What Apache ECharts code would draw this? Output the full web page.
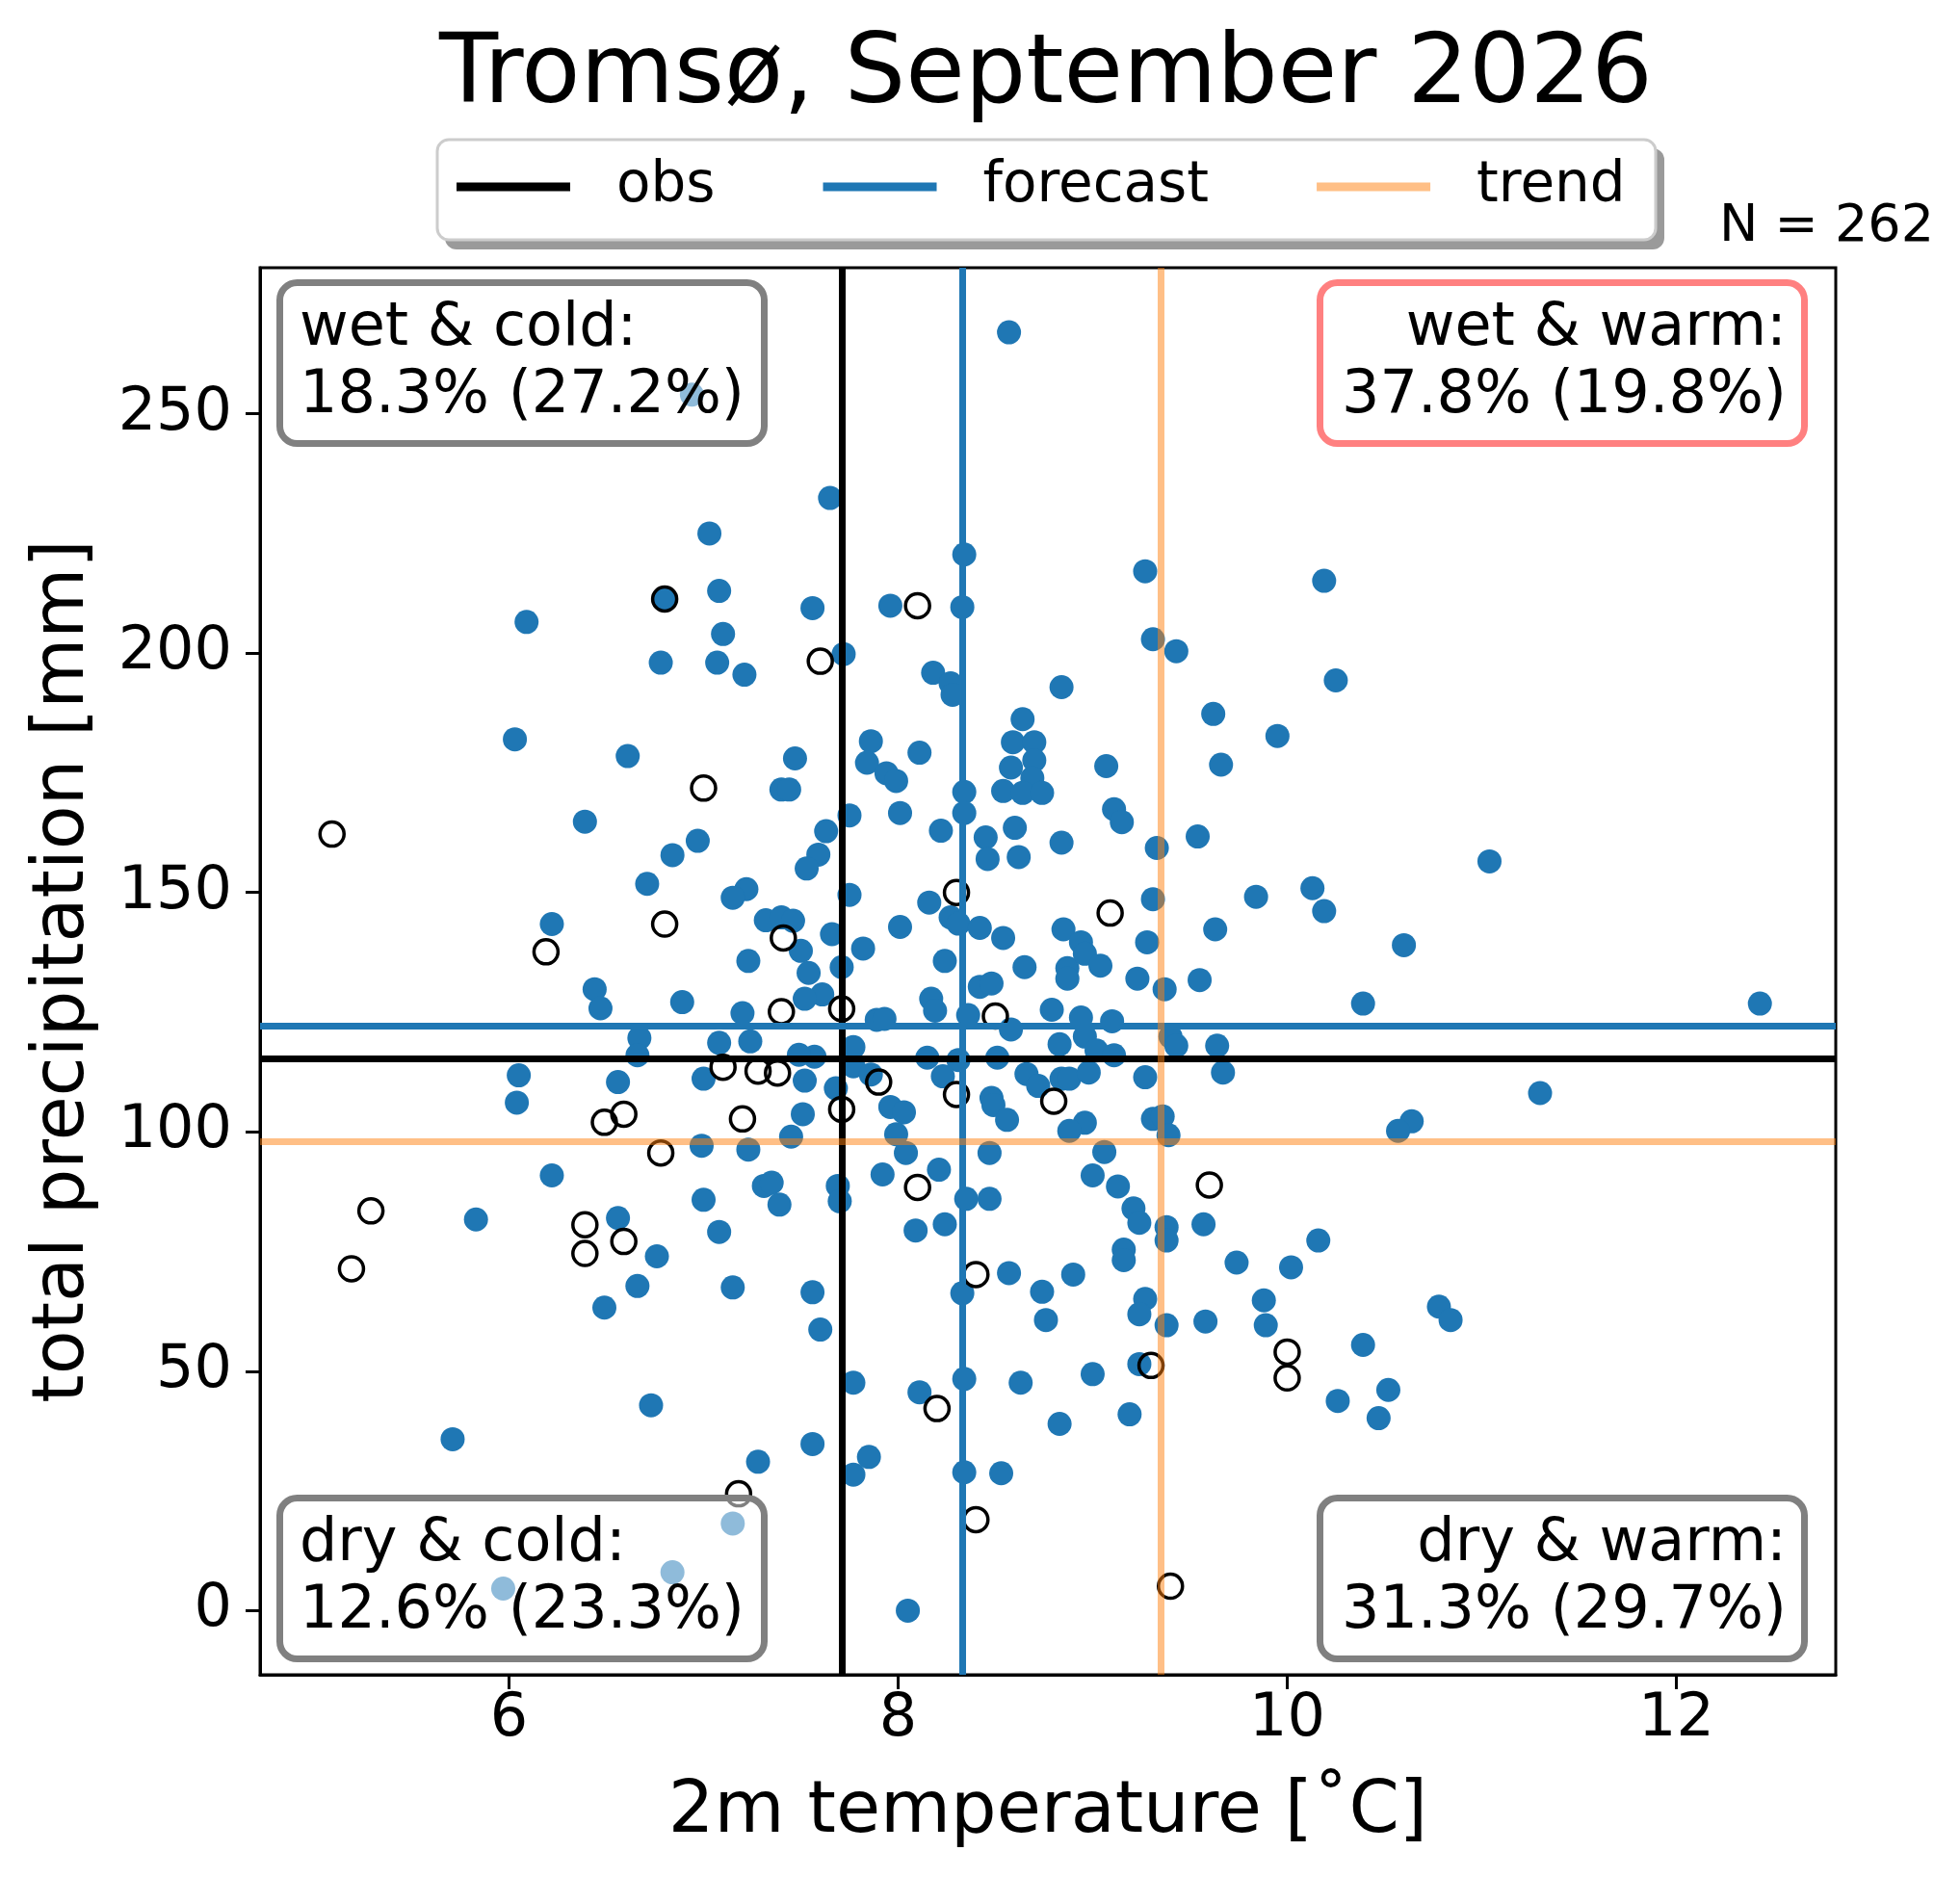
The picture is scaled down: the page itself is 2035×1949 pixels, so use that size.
<!DOCTYPE html>
<html><head><meta charset="utf-8">
<script src="https://cdn.jsdelivr.net/npm/echarts@6/dist/echarts.min.js"></script>
<style>html,body{margin:0;padding:0;background:#fff}#c{width:2035px;height:1949px}</style>
</head><body><div id="c"></div>
<script>
const chartTitle = 'Tromsø, September 2026';
const xTicks = [6, 8, 10, 12];
const yTicks = [0, 50, 100, 150, 200, 250];
const nLabel = 'N = 262';

// reference lines: obs, forecast, trend  (temperature, precipitation)
const refNames = ['obs', 'forecast', 'trend'];
const refTemp = [7.71, 8.33, 9.345];
const refPrecip = [115.2, 122.2, 98.0];

// quadrant summaries
const quadNames = ['wet & cold:', 'wet & warm:', 'dry & cold:', 'dry & warm:'];
const quadShare = ['18.3%', '37.8%', '12.6%', '31.3%'];
const quadClim = ['(27.2%)', '(19.8%)', '(23.3%)', '(29.7%)'];

// forecast ensemble members [temperature, precipitation] (filled blue)
const memberPoints = [
 [6.94,254],[7.03,225],[6.80,211.5],[7.08,213],[6.09,206.5],[7.10,204],[6.78,198],[7.07,198],[7.21,195.5],[6.03,182],
 [6.61,178.5],[7.47,178],[7.40,171.5],[7.44,171.5],[6.39,164.8],[6.97,160.8],[6.84,157.8],[6.71,151.8],[7.22,150.7],[7.15,148.9],
 [6.22,143.4],[7.32,144.2],[7.40,144.8],[7.46,144.1],
 [8.57,267],[7.65,232.4],[8.34,220.6],[9.27,217.1],[10.19,215.1],[7.56,209.4],[7.96,209.9],[8.33,209.6],[7.72,199.8],[9.31,202.9],
 [9.43,200.4],[8.18,195.9],[8.27,193.7],[8.28,191.3],[8.84,192.9],[10.25,194.3],[8.64,186.2],[9.62,187.3],[9.95,182.7],[8.59,181.4],
 [8.70,181.4],[7.86,181.6],[8.70,177.6],[7.84,177.1],[8.11,179.2],[7.94,174.9],[7.99,173.3],[8.58,176.1],[8.69,173.9],[9.07,176.4],
 [9.66,176.7],[8.54,171.2],[8.64,170.8],[8.74,170.8],[8.34,171.0],[8.34,166.6],[7.75,166.1],[8.01,166.6],[9.11,167.4],[9.15,164.7],
 [7.63,162.8],[8.22,162.9],[8.45,161.5],[8.60,163.5],[7.59,157.9],[7.53,155.0],[8.46,157.0],[8.62,157.4],[8.84,160.4],[9.33,159.3],
 [9.54,161.7],[7.75,149.5],[8.16,147.9],[9.31,148.6],[9.84,149.1],[10.13,150.9],[10.19,146.1],[8.27,144.8],[8.31,143.5],[8.01,142.8],
 [8.42,142.6],[8.54,140.5],[8.85,142.3],[8.94,139.6],[9.28,139.6],[9.63,142.3],[7.66,141.3],
 [11.04,156.5],[10.60,139.0],
 [7.23,135.7],[6.44,129.8],[6.47,125.8],[6.89,127.1],[7.20,124.8],[6.67,119.6],[6.66,116.0],[7.08,118.6],[7.24,118.9],[7.00,111.1],
 [6.05,111.8],[6.04,106.1],[6.56,110.4],[6.99,97.1],[7.23,96.3],[7.45,99.0],[6.22,90.9],[7.31,88.7],[7.35,89.4],[7.39,84.8],
 [7.00,85.8],[5.83,81.7],[6.56,82.0],[7.08,79.1],[6.76,74.0],[6.66,67.8],[7.15,67.5],[6.49,63.3],[6.73,42.9],[5.71,35.8],
 [7.28,31.1],[7.15,18.2],[6.84,8.0],[5.97,4.6],
 [7.50,137.8],[7.54,133.2],[7.71,134.4],[7.61,128.7],[7.52,127.8],[7.82,138.3],[8.24,135.7],[8.65,134.4],[8.87,134.2],[8.87,132.0],
 [8.96,137.2],[9.04,134.7],[9.23,132.0],[9.55,131.7],[9.37,129.8],[8.42,130.3],[8.48,131.0],[8.17,127.8],[8.19,125.3],[7.89,123.4],
 [7.93,123.6],[7.77,117.7],[8.36,124.4],[8.58,121.4],[8.79,125.5],[8.94,123.9],[9.10,123.1],[8.96,119.9],[8.83,118.3],[9.02,117.0],
 [9.11,116.0],[9.40,119.9],[9.43,118.0],[9.64,118.0],[9.67,112.4],[7.57,115.7],[7.49,116.1],[7.52,110.7],[8.15,115.5],[8.31,115.0],
 [8.51,115.5],[7.77,113.7],[7.86,112.0],[8.23,111.6],[8.66,112.1],[8.72,109.6],[8.84,111.1],[8.88,111.1],[8.98,112.4],[9.27,111.4],
 [7.68,109.1],[7.51,103.7],[7.96,105.2],[8.03,104.1],[8.48,107.1],[8.49,105.6],[8.56,102.5],[8.96,101.9],[8.88,100.2],[9.31,102.7],
 [9.36,103.2],[9.39,99.3],[7.99,99.5],[8.04,95.6],[8.47,95.6],[9.06,95.8],[9.00,90.9],[9.13,88.6],[7.92,91.1],[8.21,92.1],
 [7.69,88.7],[7.70,85.5],[8.35,86.0],[8.47,86.0],[9.21,84.0],[9.24,81.0],[9.38,80.1],[9.38,77.3],[9.57,80.7],[8.09,79.4],
 [8.24,80.7],[9.16,75.4],[9.16,73.2],[9.74,72.7],[10.02,71.7],[10.16,77.3],[8.33,66.3],[8.57,70.5],[8.74,66.6],[8.90,70.2],
 [8.76,60.7],[7.56,66.5],[7.60,58.7],[9.27,65.1],[9.24,61.9],[9.38,59.6],[9.58,60.4],[9.88,64.8],[9.89,59.6],[10.26,43.8],
 [9.24,51.5],[9.00,49.4],[7.77,47.6],[8.11,45.6],[8.34,48.4],[8.63,47.6],[8.83,39.0],[9.19,41.0],[7.56,34.8],[7.85,32.1],
 [7.77,28.4],[8.34,28.9],[8.53,28.7],[8.05,0.0],
 [10.39,126.8],[12.43,126.8],[11.30,108.1],[10.64,102.2],[10.57,100.2],[10.78,63.5],[10.84,60.7],[10.39,55.5],[10.52,46.1],[10.47,40.2]
];

// past years [temperature, precipitation] (open circles)
const pastPoints = [
 [6.80,211.3],[7.00,171.8],[5.09,162.2],[6.80,143.4],[7.41,140.5],[8.10,209.9],[7.60,198.3],[8.30,150.0],[9.09,145.7],
 [6.19,137.6],[7.40,125.1],[7.10,113.5],[7.28,112.7],[7.38,112.3],[6.59,103.7],[6.49,102.0],[7.20,102.7],[6.78,95.6],[5.29,83.5],
 [5.19,71.4],[6.39,80.6],[6.39,74.6],[6.59,77.1],[7.18,24.4],
 [7.71,125.7],[8.50,124.2],[7.90,110.4],[8.30,107.8],[8.80,106.4],[7.71,104.7],[8.10,88.4],[9.60,88.9],[8.40,70.2],[10.0,54.0],
 [10.0,48.6],[9.30,51.2],[8.20,42.2],[8.40,19.0],[9.40,5.1]
];

const FONT = 'DejaVu Sans';
const refColors = ['#000000', '#1f77b4', 'rgba(255,127,14,0.5)'];
const quadEdge = ['#808080', '#ff8080', '#808080', '#808080'];

const chart = echarts.init(document.getElementById('c'), null, {renderer: 'canvas', width: 2035, height: 1949});

const lineSeries = refNames.map((n, i) => ({
  type: 'line', name: n, data: [], color: refColors[i], z: 5, silent: true,
  lineStyle: {color: refColors[i], width: 7},
  markLine: {
    silent: true, symbol: ['none', 'none'], animation: false,
    label: {show: false},
    lineStyle: {color: refColors[i], width: 7, type: 'solid', opacity: 1},
    emphasis: {disabled: true},
    data: [{xAxis: refTemp[i]}, {yAxis: refPrecip[i]}]
  }
}));

// quadrant boxes
const boxW = 510, boxH = 174;
const boxPos = [[287, 290], [1367, 290], [287, 1552], [1367, 1552]];
const graphics = [];
// legend frame + shadow
graphics.push({type: 'rect', z: 3, shape: {x: 462, y: 154, width: 1266, height: 105, r: 12}, style: {fill: '#9a9a9a'}});
graphics.push({type: 'rect', z: 3, shape: {x: 454, y: 145, width: 1265, height: 104, r: 12}, style: {fill: '#ffffff', stroke: '#cccccc', lineWidth: 3}});
quadNames.forEach((q, i) => {
  const [bx, by] = boxPos[i];
  graphics.push({type: 'rect', z: 50, shape: {x: bx + 3.5, y: by + 3.5, width: boxW - 7, height: boxH - 7, r: 18},
    style: {fill: 'rgba(255,255,255,0.5)', stroke: quadEdge[i], lineWidth: 7}});
  const right = (i % 2 === 1);
  graphics.push({type: 'text', z: 51, x: right ? bx + boxW - 22 : bx + 24, y: by + 17,
    style: {text: q + '\n' + quadShare[i] + ' ' + quadClim[i], fontFamily: FONT, fontSize: 62, lineHeight: 70,
      fill: '#000', align: right ? 'right' : 'left', verticalAlign: 'top'}});
});
graphics.push({type: 'text', z: 51, x: 2008, y: 236,
  style: {text: nLabel, fontFamily: FONT, fontSize: 54, fill: '#000', align: 'right', verticalAlign: 'middle'}});

const option = {
  backgroundColor: '#ffffff',
  animation: false,
  title: {text: chartTitle, left: 456, top: 30, padding: 0,
    textStyle: {fontFamily: FONT, fontSize: 100, fontWeight: 'normal', color: '#000'}},
  legend: {data: refNames, left: 474, top: 165, padding: 0, itemWidth: 118, itemHeight: 9, itemGap: 112,
    icon: 'rect', selectedMode: false, z: 10,
    textStyle: {fontFamily: FONT, fontSize: 58, color: '#000', padding: [0, 0, 0, 43]}},
  grid: {left: 270, top: 278, width: 1636, height: 1461, show: true, borderColor: '#000', borderWidth: 3,
    backgroundColor: 'transparent', containLabel: false},
  xAxis: {type: 'value', min: 4.72, max: 12.82, splitLine: {show: false},
    axisLine: {show: true, onZero: false, lineStyle: {color: '#000', width: 3}},
    axisTick: {show: true, customValues: xTicks, length: 15, lineStyle: {color: '#000', width: 3}},
    axisLabel: {customValues: xTicks, fontFamily: FONT, fontSize: 62, color: '#000', margin: 16},
    name: '2m temperature [˚C]', nameLocation: 'middle', nameGap: 106,
    nameTextStyle: {fontFamily: FONT, fontSize: 75, color: '#000'}},
  yAxis: {type: 'value', min: -13.4, max: 280.5, splitLine: {show: false},
    axisLine: {show: true, onZero: false, lineStyle: {color: '#000', width: 3}},
    axisTick: {show: true, customValues: yTicks, length: 15, lineStyle: {color: '#000', width: 3}},
    axisLabel: {customValues: yTicks, fontFamily: FONT, fontSize: 62, color: '#000', margin: 29},
    name: 'total precipitation [mm]', nameLocation: 'middle', nameGap: 166,
    nameTextStyle: {fontFamily: FONT, fontSize: 75, color: '#000'}},
  series: [
    {type: 'scatter', name: 'ensemble', data: memberPoints, symbol: 'circle', symbolSize: 25, z: 2,
      itemStyle: {color: '#1f77b4', opacity: 1}, silent: true},
    {type: 'scatter', name: 'past years', data: pastPoints, symbol: 'circle', symbolSize: 25, z: 3,
      itemStyle: {color: 'rgba(0,0,0,0)', borderColor: '#000', borderWidth: 3.5, opacity: 1}, silent: true}
  ].concat(lineSeries),
  graphic: graphics
};
chart.setOption(option);
</script>
</body></html>
